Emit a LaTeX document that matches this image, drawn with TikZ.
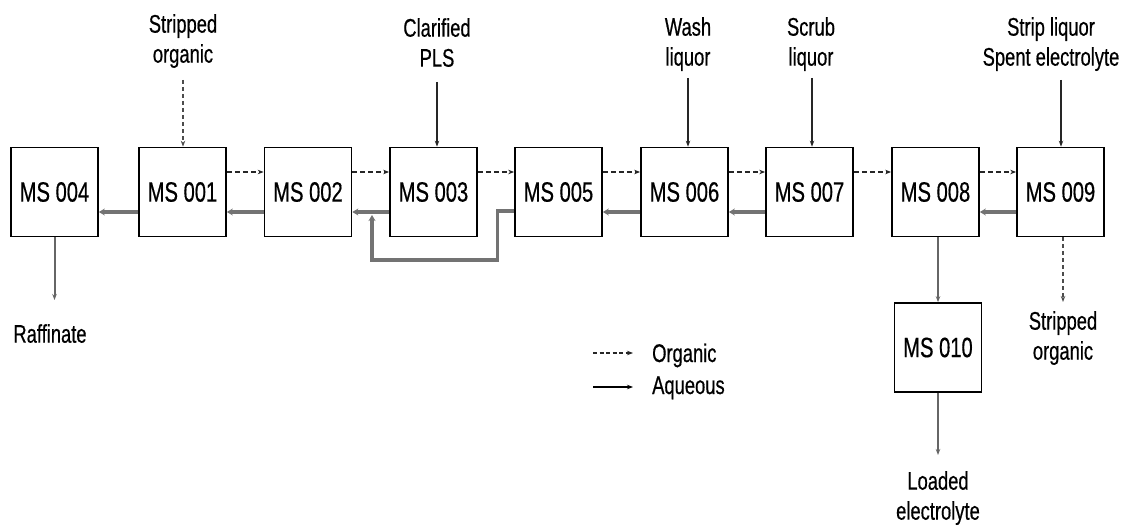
\documentclass[tikz,border=0pt]{standalone}
\usepackage{fontspec}
\setmainfont{Liberation Sans}[FakeStretch=0.72,FakeBold=0.5]
\usetikzlibrary{arrows.meta}
\begin{document}
\begin{tikzpicture}[x=1pt,y=-1pt,
  box/.style={draw=black,line width=1.7pt,minimum width=87pt,minimum height=89pt,inner sep=0pt,font=\fontsize{28}{30}\selectfont},
  lbl/.style={inner sep=0pt,align=center,font=\fontsize{25.5}{30}\selectfont},
  tip/.style={-{Stealth[length=6pt,width=4.5pt]}},
  org/.style={tip,draw=black!85,line width=2pt,dash pattern=on 5pt off 3pt},
  aq/.style={-{Stealth[length=6pt,width=7pt]},draw=black!55,line width=3.2pt},
  feed/.style={tip,draw=black!85,line width=1.3pt},
  feedd/.style={tip,draw=black!70,line width=1.3pt,dash pattern=on 4pt off 3pt},
  aqv/.style={tip,draw=black!60,line width=2pt}]
\useasboundingbox (0,0) rectangle (1131,532);
% boxes
\node[box] (b004) at (54.5,192) {MS 004};
\node[box] (b001) at (182.5,192) {MS 001};
\node[box] (b002) at (308,192) {MS 002};
\node[box] (b003) at (433.5,192) {MS 003};
\node[box] (b005) at (558.5,192) {MS 005};
\node[box] (b006) at (684.5,192) {MS 006};
\node[box] (b007) at (809.5,192) {MS 007};
\node[box] (b008) at (935.5,192) {MS 008};
\node[box] (b009) at (1060.5,192) {MS 009};
\node[box] (b010) at (938,347.5) {MS 010};
% labels
\node[lbl,anchor=north] (lso) at (183,14) {Stripped\\organic};
\node[lbl,anchor=north] (lpls) at (437,18) {Clarified\\PLS};
\node[lbl,anchor=north] (lwash) at (688,17) {Wash\\liquor};
\node[lbl,anchor=north] (lscrub) at (811,17) {Scrub\\liquor};
\node[lbl,anchor=north] (lstrip) at (1051,17) {Strip liquor\\Spent electrolyte};
\node[lbl,anchor=north] (lraf) at (50,324) {Raffinate};
\node[lbl,anchor=north] (lso2) at (1063,311) {Stripped\\organic};
\node[lbl,anchor=north] (lle) at (938,471) {Loaded\\electrolyte};
\node[lbl,anchor=base west] (lorg) at (652,362) {Organic};
\node[lbl,anchor=base west] (laq) at (652,394) {Aqueous};
% feed coordinates
\coordinate (fso) at (183,80);
\coordinate (fpls) at (437,82);
\coordinate (fwash) at (688,78);
\coordinate (fscrub) at (812,78);
\coordinate (fstrip) at (1061,80);
\draw[feedd] (fso) -- (fso |- b001.north);
\draw[feed] (fpls) -- (fpls |- b003.north);
\draw[feed] (fwash) -- (fwash |- b006.north);
\draw[feed] (fscrub) -- (fscrub |- b007.north);
\draw[feed] (fstrip) -- (fstrip |- b009.north);
% organic (dashed, rightwards)
\foreach \a/\b in {b001/b002,b002/b003,b003/b005,b005/b006,b006/b007,b007/b008,b008/b009}
  \draw[org] ([yshift=20pt]\a.east) -- ([yshift=20pt]\b.west);
% aqueous (solid, leftwards)
\foreach \a/\b in {b001/b004,b002/b001,b003/b002,b006/b005,b007/b006,b009/b008}
  \draw[aq] ([yshift=-20pt]\a.west) -- ([yshift=-20pt]\b.east);
% bypass loop
\coordinate (jn) at (372,215);
\draw[aq] ([yshift=-19pt]b005.west) -- ++(-17,0) -- ++(0,49) -| (jn);
% downward streams
\coordinate (eraf) at (54.5,300);
\draw[aqv] (b004.south) -- (eraf);
\draw[aqv] (b008.south -| b010.north) -- (b010.north);
\coordinate (ele) at (938,455);
\draw[aqv] (b010.south) -- (ele);
\coordinate (eso) at (1063,302);
\draw[feedd] (b009.south -| eso) -- (eso);
% legend
\coordinate (lo1) at (593,353);
\coordinate (lo2) at (633,353);
\coordinate (la1) at (593,387);
\coordinate (la2) at (633,387);
\draw[org,line width=1.6pt,dash pattern=on 4pt off 2.5pt] (lo1) -- (lo2);
\draw[tip,draw=black,line width=2pt] (la1) -- (la2);
\end{tikzpicture}
\end{document}
